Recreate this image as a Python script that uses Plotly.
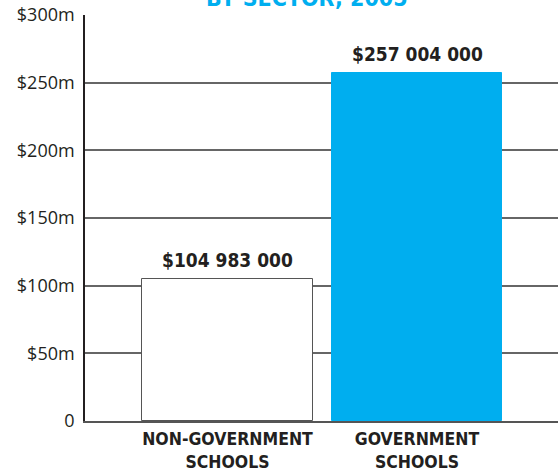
import plotly.graph_objects as go

# Recurrent funding by sector, 2005
sectors = ["NON-GOVERNMENT<br>SCHOOLS", "GOVERNMENT<br>SCHOOLS"]
funding = [104983000, 257004000]
bar_colors = ["#FFFFFF", "#00AEEF"]
bar_lines = ["#555555", "#00AEEF"]

tick_vals = [0, 50e6, 100e6, 150e6, 200e6, 250e6, 300e6]
tick_text = ["0", "$50m", "$100m", "$150m", "$200m", "$250m", "$300m"]

title_text = "BY SECTOR, 2005"

label_font = "DejaVu Sans Condensed, Liberation Sans Narrow, sans-serif"


def money(v):
    return "$" + f"{v:,}".replace(",", " ")


def heavy(size, color):
    return dict(family=label_font, size=size, color=color, weight=800)


fig = go.Figure()
fig.add_trace(go.Bar(
    x=[0, 1],
    y=funding,
    width=0.902,
    marker=dict(color=bar_colors, line=dict(color=bar_lines, width=1)),
    hoverinfo="skip",
))

for i, v in enumerate(funding):
    fig.add_annotation(
        x=i, y=v, xref="x", yref="y",
        text=money(v),
        showarrow=False, yanchor="bottom", yshift=6,
        font=heavy(19, "#231F20"),
    )

# Chart heading sits above the frame, mostly beyond the top edge
fig.add_annotation(
    x=0.47, y=1.0, xref="paper", yref="paper",
    text=title_text,
    showarrow=False, yanchor="bottom", yshift=2,
    font=heavy(23, "#00AEEF"),
)

fig.update_layout(
    width=558, height=473,
    margin=dict(l=85, r=0, t=15, b=52),
    paper_bgcolor="white", plot_bgcolor="white",
    showlegend=False,
    bargap=0,
    xaxis=dict(
        range=[-0.752, 1.744],
        tickvals=[0, 1],
        ticktext=sectors,
        tickfont=heavy(17.5, "#231F20"),
        showgrid=False, zeroline=False,
        showline=True, linecolor="#555555", linewidth=1.5,
        ticks="", ticklen=0, ticklabelstandoff=1,
        automargin=False,
        fixedrange=True,
    ),
    yaxis=dict(
        range=[0, 300e6],
        tickvals=tick_vals,
        ticktext=tick_text,
        tickfont=dict(family="Open Sans, sans-serif", size=18, color="#231F20"),
        showgrid=True, gridcolor="#666666", gridwidth=1.5,
        zeroline=False,
        showline=True, linecolor="#231F20", linewidth=1.5,
        ticks="", ticklabelstandoff=5,
        automargin=False,
        fixedrange=True,
    ),
)

fig.write_html("out.html")
